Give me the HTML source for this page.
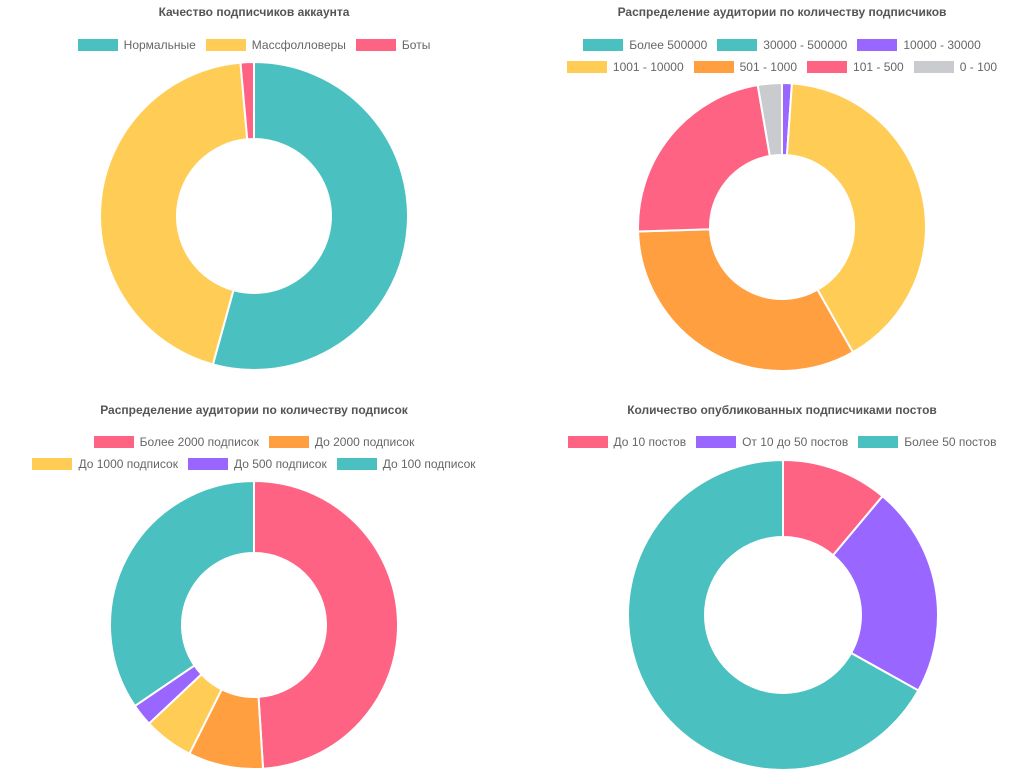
<!DOCTYPE html>
<html><head><meta charset="utf-8"><style>
body{margin:0;background:#fff;width:1034px;height:775px;overflow:hidden;font-family:"Liberation Sans","DejaVu Sans",sans-serif;color:#666}
.title{position:absolute;font-size:12px;font-weight:bold;color:#555;text-align:center;width:520px}
.leg{position:absolute;width:520px;display:flex;justify-content:center;font-size:12px;color:#666}
.it{display:flex;align-items:center;margin:0 5px}
.bx{width:40px;height:12px;margin-right:6px}
svg{position:absolute;left:0;top:0}
</style></head><body>
<div class="title" style="left:-6px;top:5px">Качество подписчиков аккаунта</div>
<div class="title" style="left:522px;top:5px">Распределение аудитории по количеству подписчиков</div>
<div class="title" style="left:-6px;top:403px">Распределение аудитории по количеству подписок</div>
<div class="title" style="left:522px;top:403px">Количество опубликованных подписчиками постов</div>
<div id="legends"></div>
<svg id="svg" width="1034" height="775"></svg>
<script>
const C={teal:'#4bc0c0',yellow:'#ffcd56',red:'#ff6384',orange:'#ff9f40',purple:'#9966ff',gray:'#c9cbcf'};
const labels1=['Нормальные','Массфолловеры','Боты'];
const values1=[54.3,44.3,1.4];
const colors1=[C.teal,C.yellow,C.red];
const labels2=['Более 500000','30000 - 500000','10000 - 30000','1001 - 10000','501 - 1000','101 - 500','0 - 100'];
const values2=[0,0,1.1,40.7,32.7,22.8,2.7];
const colors2=[C.teal,C.teal,C.purple,C.yellow,C.orange,C.red,C.gray];
const labels3=['Более 2000 подписок','До 2000 подписок','До 1000 подписок','До 500 подписок','До 100 подписок'];
const values3=[49,8.4,5.6,2.5,34.5];
const colors3=[C.red,C.orange,C.yellow,C.purple,C.teal];
const labels4=['До 10 постов','От 10 до 50 постов','Более 50 постов'];
const values4=[11.1,22,66.9];
const colors4=[C.red,C.purple,C.teal];

const svg=document.getElementById('svg');
const NS='http://www.w3.org/2000/svg';
function donut(vals,cols,cx,cy,r,ri,name){
  const tot=vals.reduce((a,b)=>a+b,0);let a=0;
  vals.forEach((v,i)=>{
    if(v<=0)return;
    const a0=a/tot*2*Math.PI,a1=(a+v)/tot*2*Math.PI;a+=v;
    const p=(ang,rr)=>[cx+rr*Math.sin(ang),cy-rr*Math.cos(ang)];
    const [x0,y0]=p(a0,r),[x1,y1]=p(a1,r),[x2,y2]=p(a1,ri),[x3,y3]=p(a0,ri);
    const lg=(a1-a0)>Math.PI?1:0;
    const el=document.createElementNS(NS,'path');
    el.setAttribute('d',`M${x0},${y0}A${r},${r} 0 ${lg} 1 ${x1},${y1}L${x2},${y2}A${ri},${ri} 0 ${lg} 0 ${x3},${y3}Z`);
    el.setAttribute('fill',cols[i]);el.setAttribute('stroke','#fff');el.setAttribute('stroke-width','2');
    
    
    svg.appendChild(el);
  });
}
donut(values1,colors1,254,216,154,77,'quality');
donut(values2,colors2,782,227,144,72,'followers');
donut(values3,colors3,254,625,144,72,'subscriptions');
donut(values4,colors4,783,615,155,78,'posts');

const L=document.getElementById('legends');
function legend(rows,labels,cols,left,top,name){
  let k=0;
  rows.forEach((n,ri)=>{
    const row=document.createElement('div');row.className='leg';
    row.style.left=left+'px';row.style.top=(top+ri*22)+'px';
    
    
    for(let j=0;j<n;j++,k++){
      const it=document.createElement('div');it.className='it';
      
      
      it.innerHTML='<div class="bx" style="background:'+cols[k]+'"></div><span>'+labels[k]+'</span>';
      row.appendChild(it);
    }
    L.appendChild(row);
  });
}
legend([3],labels1,colors1,-6,38,'quality');
legend([3,4],labels2,colors2,522,38,'followers');
legend([2,3],labels3,colors3,-6,435,'subscriptions');
legend([3],labels4,colors4,522,435,'posts');
</script>
</body></html>
